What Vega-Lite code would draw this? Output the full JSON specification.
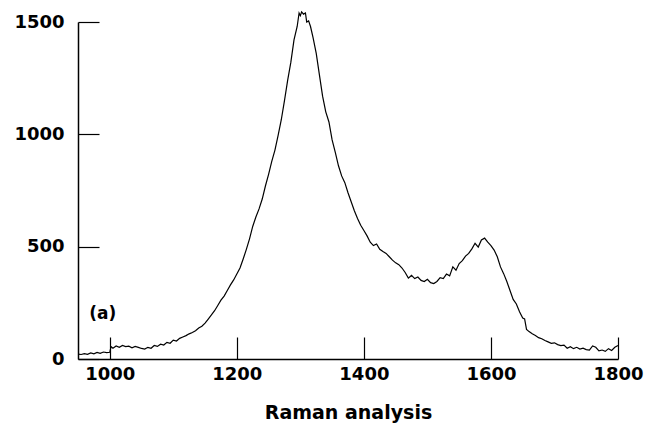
{
  "$schema": "https://vega.github.io/schema/vega-lite/v6.json",
  "width": 540,
  "height": 337,
  "padding": {"left": 13, "top": 9, "right": 5, "bottom": 5},
  "background": "white",
  "config": {
    "view": {"stroke": null},
    "axis": {
      "grid": false,
      "domainColor": "black",
      "domainWidth": 1.5,
      "tickColor": "black",
      "tickWidth": 1.2,
      "labelColor": "black",
      "labelFont": "DejaVu Sans",
      "labelFontWeight": "bold",
      "labelFontSize": 18,
      "titleFont": "DejaVu Sans",
      "titleFontWeight": "bold",
      "titleFontSize": 19,
      "titleColor": "black"
    }
  },
  "layer": [
    {
      "data": {
        "values": [
          {"shift": 950, "intensity": 22}, {"shift": 955, "intensity": 20}, {"shift": 960, "intensity": 24}, {"shift": 965, "intensity": 21},
          {"shift": 970, "intensity": 27}, {"shift": 975, "intensity": 23}, {"shift": 980, "intensity": 29}, {"shift": 985, "intensity": 25},
          {"shift": 990, "intensity": 31}, {"shift": 995, "intensity": 28}, {"shift": 1000, "intensity": 30}, {"shift": 1002, "intensity": 55},
          {"shift": 1005, "intensity": 48}, {"shift": 1010, "intensity": 58}, {"shift": 1015, "intensity": 52}, {"shift": 1020, "intensity": 60},
          {"shift": 1025, "intensity": 55}, {"shift": 1030, "intensity": 57}, {"shift": 1035, "intensity": 50}, {"shift": 1040, "intensity": 56},
          {"shift": 1045, "intensity": 52}, {"shift": 1050, "intensity": 47}, {"shift": 1055, "intensity": 44}, {"shift": 1060, "intensity": 52},
          {"shift": 1065, "intensity": 48}, {"shift": 1070, "intensity": 60}, {"shift": 1075, "intensity": 56}, {"shift": 1080, "intensity": 66},
          {"shift": 1085, "intensity": 62}, {"shift": 1090, "intensity": 74}, {"shift": 1095, "intensity": 70}, {"shift": 1100, "intensity": 84},
          {"shift": 1105, "intensity": 80}, {"shift": 1110, "intensity": 92}, {"shift": 1115, "intensity": 98}, {"shift": 1120, "intensity": 104},
          {"shift": 1125, "intensity": 112}, {"shift": 1130, "intensity": 118}, {"shift": 1135, "intensity": 126}, {"shift": 1140, "intensity": 138},
          {"shift": 1145, "intensity": 146}, {"shift": 1150, "intensity": 160}, {"shift": 1155, "intensity": 178}, {"shift": 1160, "intensity": 196},
          {"shift": 1165, "intensity": 215}, {"shift": 1170, "intensity": 238}, {"shift": 1175, "intensity": 262}, {"shift": 1180, "intensity": 280},
          {"shift": 1185, "intensity": 305}, {"shift": 1190, "intensity": 330}, {"shift": 1195, "intensity": 352}, {"shift": 1200, "intensity": 378},
          {"shift": 1205, "intensity": 405}, {"shift": 1210, "intensity": 445}, {"shift": 1215, "intensity": 488}, {"shift": 1220, "intensity": 535},
          {"shift": 1225, "intensity": 590}, {"shift": 1230, "intensity": 632}, {"shift": 1235, "intensity": 668}, {"shift": 1240, "intensity": 712},
          {"shift": 1245, "intensity": 770}, {"shift": 1250, "intensity": 822}, {"shift": 1255, "intensity": 880}, {"shift": 1260, "intensity": 930},
          {"shift": 1265, "intensity": 995}, {"shift": 1270, "intensity": 1065}, {"shift": 1275, "intensity": 1150}, {"shift": 1280, "intensity": 1240},
          {"shift": 1285, "intensity": 1320}, {"shift": 1290, "intensity": 1420}, {"shift": 1295, "intensity": 1480}, {"shift": 1298, "intensity": 1540},
          {"shift": 1300, "intensity": 1528}, {"shift": 1302, "intensity": 1545}, {"shift": 1305, "intensity": 1535}, {"shift": 1308, "intensity": 1540},
          {"shift": 1310, "intensity": 1500}, {"shift": 1313, "intensity": 1505}, {"shift": 1316, "intensity": 1480}, {"shift": 1320, "intensity": 1430},
          {"shift": 1325, "intensity": 1360}, {"shift": 1330, "intensity": 1265}, {"shift": 1335, "intensity": 1170}, {"shift": 1340, "intensity": 1100},
          {"shift": 1345, "intensity": 1055}, {"shift": 1350, "intensity": 975}, {"shift": 1355, "intensity": 920}, {"shift": 1360, "intensity": 860},
          {"shift": 1365, "intensity": 815}, {"shift": 1370, "intensity": 785}, {"shift": 1375, "intensity": 740}, {"shift": 1380, "intensity": 700},
          {"shift": 1385, "intensity": 660}, {"shift": 1390, "intensity": 625}, {"shift": 1395, "intensity": 595}, {"shift": 1400, "intensity": 572},
          {"shift": 1405, "intensity": 548}, {"shift": 1410, "intensity": 520}, {"shift": 1415, "intensity": 505}, {"shift": 1420, "intensity": 512},
          {"shift": 1425, "intensity": 488}, {"shift": 1430, "intensity": 478}, {"shift": 1435, "intensity": 470}, {"shift": 1440, "intensity": 455},
          {"shift": 1445, "intensity": 440}, {"shift": 1450, "intensity": 428}, {"shift": 1455, "intensity": 420}, {"shift": 1460, "intensity": 405},
          {"shift": 1465, "intensity": 385}, {"shift": 1470, "intensity": 360}, {"shift": 1475, "intensity": 372}, {"shift": 1480, "intensity": 358},
          {"shift": 1485, "intensity": 365}, {"shift": 1490, "intensity": 350}, {"shift": 1495, "intensity": 345}, {"shift": 1500, "intensity": 355},
          {"shift": 1505, "intensity": 340}, {"shift": 1510, "intensity": 336}, {"shift": 1515, "intensity": 345}, {"shift": 1520, "intensity": 362},
          {"shift": 1525, "intensity": 358}, {"shift": 1530, "intensity": 378}, {"shift": 1535, "intensity": 370}, {"shift": 1540, "intensity": 410},
          {"shift": 1545, "intensity": 395}, {"shift": 1550, "intensity": 425}, {"shift": 1555, "intensity": 438}, {"shift": 1560, "intensity": 458},
          {"shift": 1565, "intensity": 470}, {"shift": 1570, "intensity": 490}, {"shift": 1575, "intensity": 515}, {"shift": 1580, "intensity": 498},
          {"shift": 1585, "intensity": 530}, {"shift": 1590, "intensity": 538}, {"shift": 1595, "intensity": 520}, {"shift": 1600, "intensity": 505},
          {"shift": 1605, "intensity": 485}, {"shift": 1610, "intensity": 455}, {"shift": 1615, "intensity": 410}, {"shift": 1620, "intensity": 380},
          {"shift": 1625, "intensity": 345}, {"shift": 1630, "intensity": 305}, {"shift": 1635, "intensity": 265}, {"shift": 1640, "intensity": 245},
          {"shift": 1645, "intensity": 210}, {"shift": 1650, "intensity": 182}, {"shift": 1653, "intensity": 178}, {"shift": 1656, "intensity": 132},
          {"shift": 1660, "intensity": 122}, {"shift": 1665, "intensity": 112}, {"shift": 1670, "intensity": 105}, {"shift": 1675, "intensity": 95},
          {"shift": 1680, "intensity": 90}, {"shift": 1685, "intensity": 82}, {"shift": 1690, "intensity": 76}, {"shift": 1695, "intensity": 70},
          {"shift": 1700, "intensity": 72}, {"shift": 1705, "intensity": 64}, {"shift": 1710, "intensity": 60}, {"shift": 1715, "intensity": 62},
          {"shift": 1720, "intensity": 48}, {"shift": 1725, "intensity": 55}, {"shift": 1730, "intensity": 46}, {"shift": 1735, "intensity": 52},
          {"shift": 1740, "intensity": 44}, {"shift": 1745, "intensity": 48}, {"shift": 1750, "intensity": 42}, {"shift": 1755, "intensity": 40},
          {"shift": 1760, "intensity": 58}, {"shift": 1765, "intensity": 52}, {"shift": 1770, "intensity": 36}, {"shift": 1775, "intensity": 40},
          {"shift": 1780, "intensity": 34}, {"shift": 1785, "intensity": 46}, {"shift": 1790, "intensity": 38}, {"shift": 1795, "intensity": 52},
          {"shift": 1800, "intensity": 60}
        ]
      },
      "mark": {"type": "line", "color": "black", "strokeWidth": 1.2, "clip": false},
      "encoding": {
        "x": {
          "field": "shift", "type": "quantitative",
          "scale": {"domain": [950, 1800], "nice": false, "zero": false},
          "axis": {"values": [1000, 1200, 1400, 1600, 1800], "format": "d", "tickSize": -22, "labelPadding": 28, "title": "Raman analysis", "titlePadding": 20, "labelFlush": false}
        },
        "y": {
          "field": "intensity", "type": "quantitative",
          "scale": {"domain": [0, 1500], "nice": false},
          "axis": {"values": [0, 500, 1000, 1500], "format": "d", "tickSize": -21, "labelPadding": 35, "title": null, "labelFlush": false}
        }
      }
    },
    {
      "data": {"values": [{"shift": 989, "intensity": 200, "label": "(a)"}]},
      "mark": {"type": "text", "font": "DejaVu Sans", "fontWeight": "bold", "fontSize": 17, "color": "black", "align": "center", "baseline": "middle"},
      "encoding": {
        "x": {"field": "shift", "type": "quantitative"},
        "y": {"field": "intensity", "type": "quantitative"},
        "text": {"field": "label"}
      }
    }
  ]
}
